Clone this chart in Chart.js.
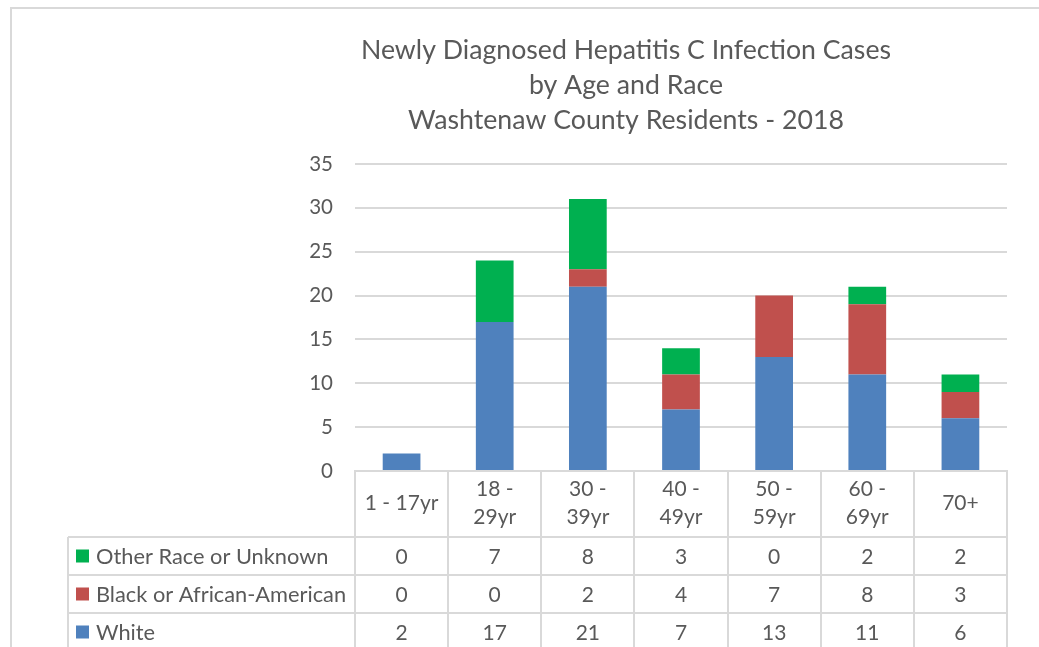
<!DOCTYPE html>
<html><head><meta charset="utf-8">
<script src="https://cdn.jsdelivr.net/npm/chart.js@4"></script>
<style>html,body{margin:0;padding:0;background:#fff;overflow:hidden}#wrap{width:1039px;height:647px;position:relative}</style>
</head><body><div id="wrap"><canvas id="c" width="1039" height="647"></canvas></div>
<script>
const titleLines = ["Newly Diagnosed Hepatitis C Infection Cases", "by Age and Race", "Washtenaw County Residents - 2018"];
const categories = ["1 - 17yr", ["18 -", "29yr"], ["30 -", "39yr"], ["40 -", "49yr"], ["50 -", "59yr"], ["60 -", "69yr"], "70+"];
const seriesNames = ["White", "Black or African-American", "Other Race or Unknown"];
const white = [2, 17, 21, 7, 13, 11, 6];
const black = [0, 0, 2, 4, 7, 8, 3];
const other = [0, 7, 8, 3, 0, 2, 2];
const seriesColors = ["#4F81BD", "#C0504D", "#00B050"];
const yMin = 0, yMax = 35, yStep = 5;

const FONT = "Lato, 'Open Sans', sans-serif";
const TEXT = "#595959";
const LINE = "#D9D9D9";

const seriesData = [white, black, other];

const framePlugin = {
  id: 'frame',
  afterDraw(chart) {
    const ctx = chart.ctx, xs = chart.scales.x, area = chart.chartArea;
    ctx.save();
    // outer chart border
    ctx.strokeStyle = LINE; ctx.lineWidth = 2;
    ctx.beginPath(); ctx.moveTo(11, 647); ctx.lineTo(11, 8); ctx.lineTo(1039, 8); ctx.stroke();
    // title
    ctx.fillStyle = TEXT; ctx.font = "26.7px " + FONT; ctx.textAlign = 'center'; ctx.textBaseline = 'alphabetic';
    titleLines.forEach((t, i) => ctx.fillText(t, 626, 59 + i * 35));
    // data table
    const n = categories.length;
    const cw = (area.right - area.left) / n;
    const headBottom = area.bottom + 66, rowH = 38, tableLeft = 68;
    ctx.strokeStyle = LINE; ctx.lineWidth = 2;
    ctx.beginPath();
    for (let i = 0; i <= n; i++) {
      const bx = Math.round(area.left + i * cw);
      ctx.moveTo(bx, area.bottom); ctx.lineTo(bx, 660);
    }
    ctx.moveTo(tableLeft, headBottom); ctx.lineTo(tableLeft, 660);
    for (let r = 0; r < 3; r++) {
      const y = headBottom + r * rowH;
      ctx.moveTo(tableLeft, y); ctx.lineTo(area.right, y);
    }
    ctx.stroke();
    ctx.textBaseline = 'middle';
    const order = [2, 1, 0];
    order.forEach((si, r) => {
      const cy = headBottom + r * rowH + rowH / 2;
      ctx.fillStyle = seriesColors[si];
      ctx.fillRect(76, cy - 6.5, 13, 13);
      ctx.fillStyle = TEXT; ctx.textAlign = 'left';
      ctx.font = "21.8px " + FONT;
      ctx.fillText(seriesNames[si], 96, cy + 1);
      ctx.textAlign = 'center';
      ctx.font = "21px " + FONT;
      seriesData[si].forEach((v, i) => {
        ctx.fillText(String(v), xs.getPixelForValue(i), cy + 1);
      });
    });
    ctx.restore();
  }
};

new Chart(document.getElementById('c'), {
  type: 'bar',
  data: {
    labels: categories,
    datasets: seriesNames.map((name, i) => ({
      label: name, data: seriesData[i], backgroundColor: seriesColors[i],
      borderWidth: 0, categoryPercentage: 1, barPercentage: 0.405
    }))
  },
  options: {
    responsive: false, animation: false, devicePixelRatio: 1,
    layout: { padding: { top: 164, right: 32, left: 0, bottom: 0 } },
    plugins: { legend: { display: false }, tooltip: { enabled: false }, title: { display: false } },
    scales: {
      x: {
        stacked: true, offset: true,
        grid: { display: false },
        border: { display: true, color: LINE, width: 2 },
        ticks: { color: TEXT, font: { family: FONT, size: 21, lineHeight: 1.33 }, padding: 10, maxRotation: 0, autoSkip: false, crossAlign: 'center' },
        afterFit: s => { s.height = 176; }
      },
      y: {
        stacked: true, min: yMin, max: yMax,
        grid: { color: LINE, lineWidth: 2, drawTicks: false },
        border: { display: false },
        ticks: { stepSize: yStep, color: TEXT, font: { family: FONT, size: 20.5 }, padding: 22 },
        afterFit: s => { s.width = 355; }
      }
    }
  },
  plugins: [framePlugin]
});
</script></body></html>
